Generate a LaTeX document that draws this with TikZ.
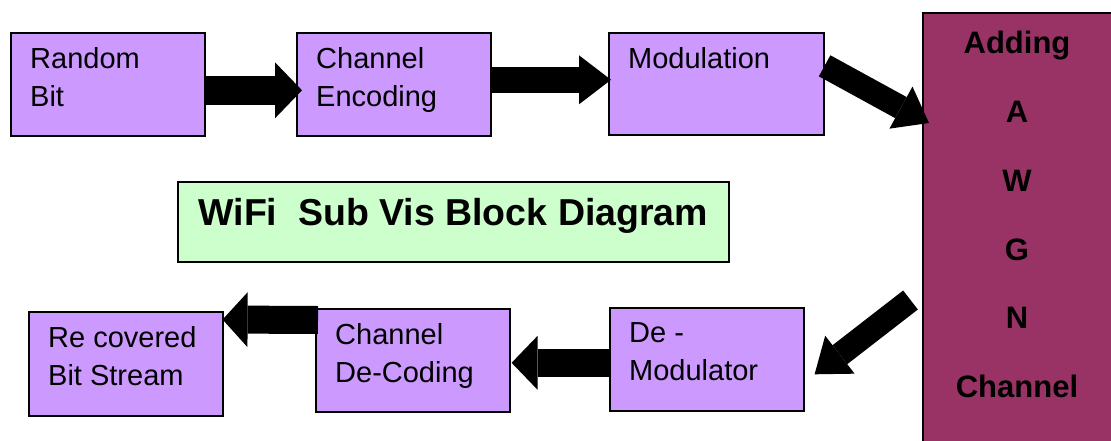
\documentclass[tikz,border=0pt]{standalone}
\usepackage{fontspec}
\setmainfont{Liberation Sans}
\usetikzlibrary{arrows.meta,calc}
\definecolor{lav}{HTML}{CC99FF}
\definecolor{plum}{HTML}{993366}
\definecolor{mint}{HTML}{CCFFCC}

\begin{document}
\begin{tikzpicture}[x=1pt,y=-1pt,
  blk/.style={draw=black, line width=1.6pt, fill=lav, anchor=north west, inner sep=0pt,
              minimum width=194pt, minimum height=103pt},
  lbl/.style={anchor=north west, inner sep=0pt, align=left,
              font=\fontsize{29}{38.5}\selectfont},
  fat/.style n args={3}{line width=#1pt,
              -{Triangle[length=#3pt,width=#2pt,line width=0pt]}},
]
% page frame
\fill[white] (0,0) rectangle (1111,440);
\clip (0,0) rectangle (1111,440);

% transmitter chain
\node[blk] (rb) at (10,32) {};
\node[lbl] (rbt) at ($(rb.north west)+(20,15)$) {Random\\Bit};
\node[blk] (ce) at (296,32) {};
\node[lbl] (cet) at ($(ce.north west)+(20,15)$) {Channel\\Encoding};
\node[blk, minimum width=215pt, minimum height=102pt] (mo) at (608,32) {};
\node[lbl] (mot) at ($(mo.north west)+(20,15)$) {Modulation};

% channel block
\node[draw=black, line width=1.6pt, fill=plum, anchor=north west, inner sep=0pt,
      minimum width=220pt, minimum height=460pt] (aw) at (922,12) {};
\node[anchor=north, inner sep=0pt, align=center,
      font=\fontsize{31}{68.8}\selectfont\bfseries] (awt)
      at ($(aw.north west)+(95,19)$) {Adding\\A\\W\\G\\N\\Channel};

% title
\node[draw=black, line width=1.6pt, fill=mint, anchor=north west, inner sep=0pt,
      minimum width=551pt, minimum height=80pt] (ti) at (177,181) {};
\node[anchor=base, inner sep=0pt, font=\fontsize{37.5}{40}\selectfont\bfseries] (tit)
      at ($(ti.north)+(0,44)$) {WiFi\ \ Sub Vis Block Diagram};

% receiver chain
\node[blk] (dm) at (609,307) {};
\node[lbl] (dmt) at ($(dm.north west)+(20,15)$) {De -\\Modulator};
\node[blk] (dc) at (315,308) {};
\node[lbl] (dct) at ($(dc.north west)+(20,15)$) {Channel\\De-Coding};
\node[blk, minimum height=104pt] (rc) at (28,311) {};
\node[lbl] (rct) at ($(rc.north west)+(20,15)$) {Re covered\\Bit Stream};

% block arrows
\draw[fat={29}{56}{27}] ($(rb.east)+(0,6)$) -- ($(ce.west)+(6,6)$);
\draw[fat={26}{49}{32}] ($(ce.east)+(0,-4.5)$) -- ($(mo.west)+(3,-4)$);
\draw[fat={24}{48}{32}] ($(mo.east)+(0,-18)$) -- ($(aw.north west)+(7,111)$);
\draw[fat={24}{48}{32}] ($(aw.north west)+(-11.5,288)$) -- ($(dm.east)+(10,15)$);
\draw[fat={28}{54}{26}] ($(dm.west)+(0,3.5)$) -- ($(dc.east)+(1,2.5)$);
\draw[fat={28}{55}{25}] ($(dc.north west)+(3,12)$) -- ($(rc.north east)+(-1,8.5)$);
\end{tikzpicture}
\end{document}
